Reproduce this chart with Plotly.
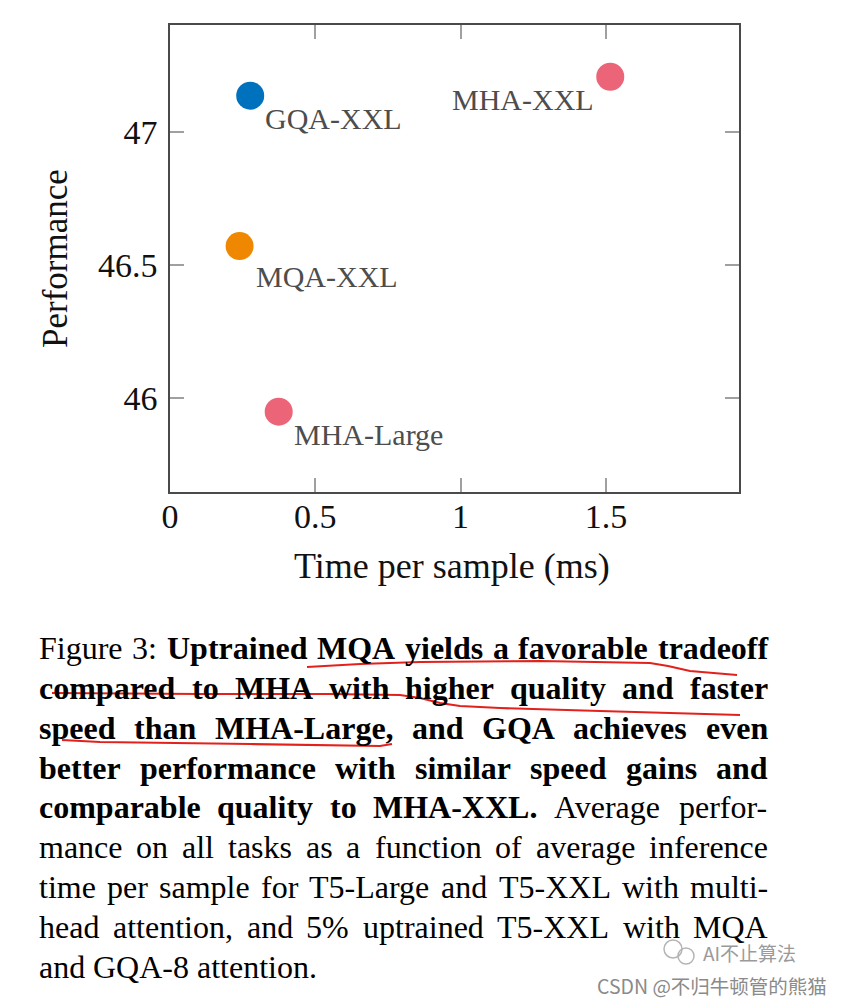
import plotly.graph_objects as go

# ---------------- data ----------------
models = ["GQA-XXL", "MHA-XXL", "MQA-XXL", "MHA-Large"]
time_ms = [0.276, 1.515, 0.2395, 0.374]
performance = [47.135, 47.206, 46.571, 45.95]
colors = ["#0071BC", "#EC6478", "#EF8700", "#EC6478"]
x_ticks = [0, 0.5, 1, 1.5]
x_tick_labels = ["0", "0.5", "1", "1.5"]
y_ticks = [46, 46.5, 47]
y_tick_labels = ["46", "46.5", "47"]
# label offsets in pixels (dx, dy) and anchor
label_dx = [13, -14, 14, 13]
label_dy = [-23, -23, -30, -23]
label_anchor = ["left", "right", "left", "left"]

caption_lines = [
    [("Figure 3:", False), ("Uptrained MQA yields a favorable tradeoff", True)],
    [("compared to MHA with higher quality and faster", True)],
    [("speed than MHA-Large, and GQA achieves even", True)],
    [("better performance with similar speed gains and", True)],
    [("comparable quality to MHA-XXL.", True), ("Average perfor-", False)],
    [("mance on all tasks as a function of average inference", False)],
    [("time per sample for T5-Large and T5-XXL with multi-", False)],
    [("head attention, and 5% uptrained T5-XXL with MQA", False)],
    [("and GQA-8 attention.", False)],
]

# ---------------- geometry ----------------
# page body has an 8px margin, so the figure is 8px smaller and everything
# is expressed in page pixels
OFF = 8
PW, PH = 845, 1005
W, H = PW - OFF, PH - OFF
L, R, T, B = 170, 739, 25, 492   # plot box in page pixels


def px_x(px):
    return (px - L) / (R - L)


def px_y(py):
    return (B - py) / (B - T)


SERIF = "Liberation Serif, Times New Roman, serif"

fig = go.Figure()
fig.add_trace(go.Scatter(
    x=time_ms, y=performance, mode="markers",
    marker=dict(size=28, color=colors, line=dict(width=0)),
    hoverinfo="text", text=models, showlegend=False,
))

annotations = []
for m, xv, yv, dx, dy, anc in zip(models, time_ms, performance, label_dx, label_dy, label_anchor):
    annotations.append(dict(
        x=xv, y=yv, xref="x", yref="y", text=m, showarrow=False,
        xanchor=anc, yanchor="middle", xshift=dx, yshift=dy,
        font=dict(family=SERIF, size=30, color="#4d4d4d"),
    ))

# axis titles
annotations.append(dict(
    x=px_x(452), y=px_y(566), xref="paper", yref="paper",
    text="Time per sample (ms)", showarrow=False, xanchor="center", yanchor="middle",
    font=dict(family=SERIF, size=36, color="#111"),
))
annotations.append(dict(
    x=px_x(55), y=px_y(258), xref="paper", yref="paper",
    text="Performance", showarrow=False, xanchor="center", yanchor="middle",
    textangle=-90, font=dict(family=SERIF, size=35, color="#111"),
))

# ---------------- caption (justified, word by word) ----------------
REG = {' ': 250, '!': 333, '%': 833, '(': 333, ')': 333, ',': 250, '-': 333, '.': 250, ':': 278,
       'A': 722, 'B': 667, 'C': 667, 'D': 722, 'E': 611, 'F': 556, 'G': 722, 'H': 722, 'I': 333,
       'J': 389, 'K': 722, 'L': 611, 'M': 889, 'N': 722, 'O': 722, 'P': 556, 'Q': 722, 'R': 667,
       'S': 556, 'T': 611, 'U': 722, 'V': 722, 'W': 944, 'X': 722, 'Y': 722, 'Z': 611,
       'a': 444, 'b': 500, 'c': 444, 'd': 500, 'e': 444, 'f': 333, 'g': 500, 'h': 500, 'i': 278,
       'j': 278, 'k': 500, 'l': 278, 'm': 778, 'n': 500, 'o': 500, 'p': 500, 'q': 500, 'r': 333,
       's': 389, 't': 278, 'u': 500, 'v': 500, 'w': 722, 'x': 500, 'y': 500, 'z': 444}
BOLD = {' ': 250, ',': 250, '-': 333, '.': 250, ':': 333, '%': 1000,
        'A': 722, 'B': 667, 'C': 722, 'D': 722, 'E': 667, 'F': 611, 'G': 778, 'H': 778, 'I': 389,
        'L': 667, 'M': 944, 'Q': 778, 'T': 667, 'U': 722, 'X': 722,
        'a': 500, 'b': 556, 'c': 444, 'd': 556, 'e': 444, 'f': 333, 'g': 500, 'h': 556, 'i': 278,
        'k': 556, 'l': 278, 'm': 833, 'n': 556, 'o': 500, 'p': 556, 'q': 556, 'r': 444, 's': 389,
        't': 333, 'u': 556, 'v': 500, 'w': 722, 'x': 500, 'y': 500}
for d in "0123456789":
    REG[d] = 500
    BOLD[d] = 500

CAP_SIZE = 32
CAP_LEFT, CAP_RIGHT = 38, 767
BASE0, LINE_GAP = 659, 39.8


def word_w(word, bold):
    table = BOLD if bold else REG
    return sum(table.get(c, 500) for c in word) / 1000.0 * CAP_SIZE


for i, line in enumerate(caption_lines):
    words = []
    for seg, bold in line:
        for w in seg.split(" "):
            words.append((w, bold))
    widths = [word_w(w, b) for w, b in words]
    last = i == len(caption_lines) - 1
    if last or len(words) < 2:
        gap = 0.25 * CAP_SIZE
    else:
        gap = (CAP_RIGHT - CAP_LEFT - sum(widths)) / (len(words) - 1)
    base = BASE0 + i * LINE_GAP
    xpos = CAP_LEFT
    for (w, b), ww in zip(words, widths):
        annotations.append(dict(
            x=px_x(xpos), y=px_y(base - 0.3375 * CAP_SIZE), xref="paper", yref="paper",
            text=("<b>%s</b>" % w) if b else w, showarrow=False,
            xanchor="left", yanchor="middle", borderpad=0,
            font=dict(family=SERIF, size=CAP_SIZE, color="#000"),
        ))
        xpos += ww + gap

# watermarks
annotations.append(dict(
    x=px_x(701), y=px_y(952), xref="paper", yref="paper", text="AI不止算法",
    showarrow=False, xanchor="left", yanchor="middle",
    font=dict(family="Noto Sans CJK SC", size=19, color="#9a9a9a"),
))
annotations.append(dict(
    x=px_x(829), y=px_y(985), xref="paper", yref="paper", text="CSDN @不归牛顿管的熊猫",
    showarrow=False, xanchor="right", yanchor="middle",
    font=dict(family="Noto Sans CJK SC", size=19.5, color="#8a8a8a"),
))

# ---------------- hand-drawn red underlines ----------------
strokes = [
    [(307, 667), (360, 664), (420, 662), (540, 661), (650, 663), (668, 666), (690, 671), (737, 675)],
    [(52, 693), (200, 694), (330, 694), (400, 695), (420, 698), (440, 703), (460, 706), (500, 708), (600, 711), (740, 715)],
    [(62, 740), (100, 742), (250, 744), (380, 746), (392, 744)],
]
shapes = []
for s in strokes:
    path = "M " + " L ".join("%.5f,%.5f" % (px_x(a), px_y(b)) for a, b in s)
    shapes.append(dict(type="path", path=path, xref="paper", yref="paper",
                       line=dict(color="#E3211C", width=2.2)))

# wechat-like icon
for cx, cy, r in [(673, 949, 9), (686, 956, 8)]:
    shapes.append(dict(type="circle", xref="paper", yref="paper",
                       x0=px_x(cx - r), x1=px_x(cx + r), y0=px_y(cy + r), y1=px_y(cy - r),
                       line=dict(color="#b5b5b5", width=1.5)))

axis_common = dict(
    showline=True, linecolor="#4a4a4a", linewidth=1.5, mirror="ticks",
    ticks="inside", ticklen=14, tickwidth=1.5, tickcolor="#a0a0a0",
    showgrid=False, zeroline=False,
    tickfont=dict(family=SERIF, size=34, color="#111"),
)

fig.update_layout(
    width=W, height=H,
    margin=dict(l=L - OFF, r=PW - R, t=T - OFF, b=PH - B, pad=0),
    paper_bgcolor="white", plot_bgcolor="white",
    xaxis=dict(range=[0, 1.958], tickvals=x_ticks, ticktext=x_tick_labels,
               ticklabelstandoff=-7, **axis_common),
    yaxis=dict(range=[45.649, 47.40], tickvals=y_ticks, ticktext=y_tick_labels,
               ticklabelstandoff=4, **axis_common),
    annotations=annotations, shapes=shapes, showlegend=False,
)

fig.write_html("out.html")
